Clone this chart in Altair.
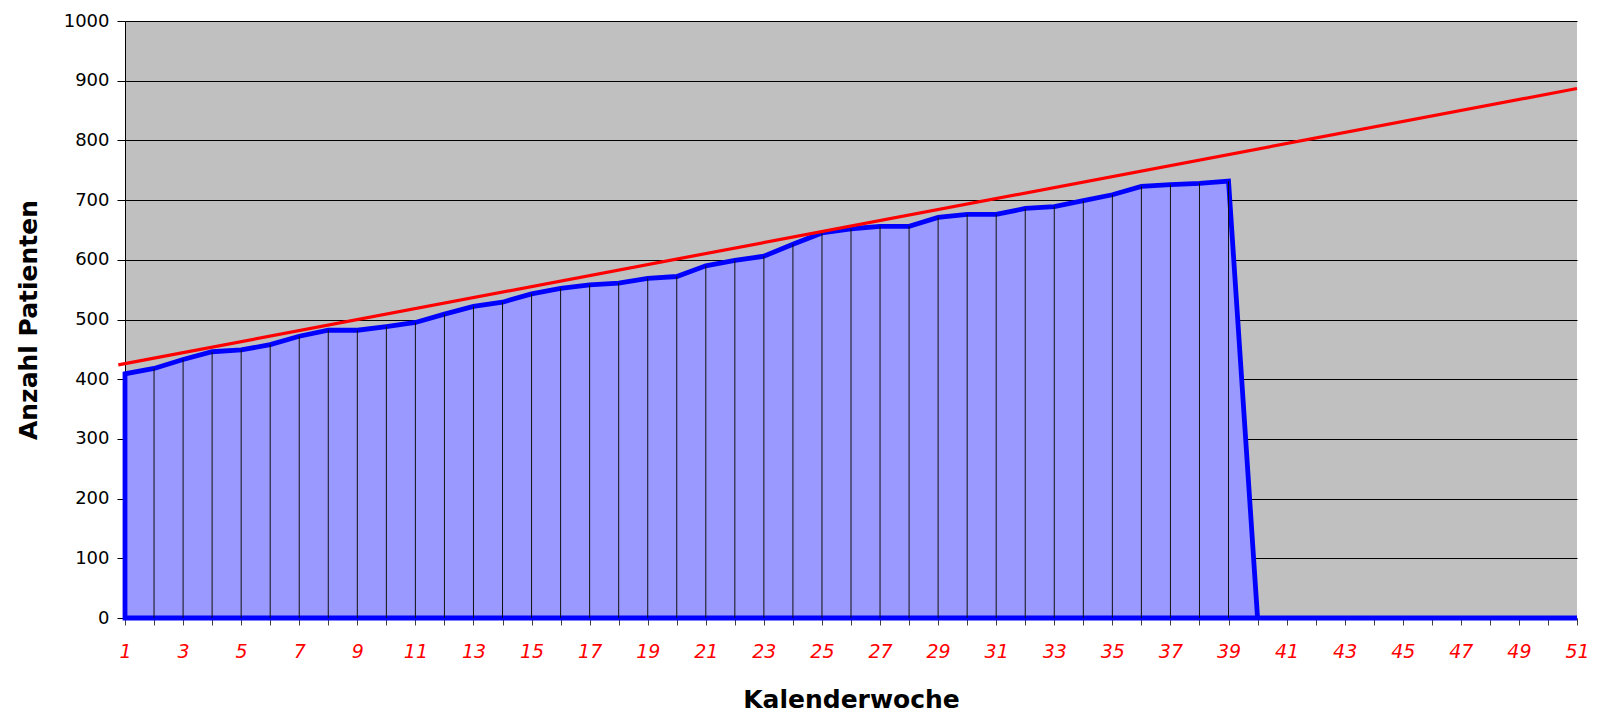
import altair as alt
import pandas as pd

# ---- data ----
weeks = list(range(1, 52))
patients = [409, 418, 433, 446, 449, 458, 472, 482, 482, 488,
            495, 509, 522, 529, 543, 552, 558, 561, 569, 572,
            590, 599, 606, 626, 645, 652, 656, 656, 671, 676,
            676, 686, 689, 699, 709, 723, 726, 728, 732,
            0, 0, 0, 0, 0, 0, 0, 0, 0, 0, 0, 0]
trend_weeks = [0.77, 51]
trend_values = [424, 887]
y_ticks = list(range(0, 1001, 100))

df = pd.DataFrame({"week": weeks, "patients": patients})
outline = pd.DataFrame({
    "week": [weeks[0]] + weeks + [weeks[0]],
    "patients": [0] + patients + [0],
})
outline["order"] = range(len(outline))
drops = df[(df["week"] > weeks[0]) & (df["patients"] > 0)].copy()
drops["base"] = 0
trend = pd.DataFrame({"week": trend_weeks, "patients": trend_values})

PLOT_W = 1452
PLOT_H = 597

x_scale = alt.Scale(domain=[1, 51], nice=False, zero=False)
y_scale = alt.Scale(domain=[0, 1000], nice=False)

x_axis = alt.Axis(
    title="Kalenderwoche", values=weeks, format="d",
    labelExpr="datum.value % 2 == 1 ? datum.label : ''",
    grid=False, domain=False, tickSize=7, tickColor="#404040", tickWidth=1,
    labelColor="#FF0000", labelFontStyle="italic", labelFont="DejaVu Sans",
    labelFontSize=19, labelPadding=32, labelBaseline="alphabetic",
    labelFlush=False, labelOverlap=False, labelBound=False,
    titleFont="DejaVu Sans", titleFontSize=25, titleFontWeight="bold",
    titleColor="black", titleX=PLOT_W / 2, titleY=89, titleBaseline="alphabetic",
    titleAlign="center",
)
y_axis = alt.Axis(
    title="Anzahl Patienten", values=y_ticks, format="d",
    grid=True, gridColor="black", gridWidth=1, gridOpacity=1,
    domainColor="black", domainWidth=1, tickColor="black", tickSize=8,
    labelPadding=8, labelFont="DejaVu Sans", labelFontSize=18,
    labelColor="black", labelFlush=False, labelOverlap=False,
    titleFont="DejaVu Sans", titleFontSize=25, titleFontWeight="bold",
    titleColor="black", titleAngle=270, titleX=-89, titleY=PLOT_H / 2,
    titleBaseline="alphabetic", titleAlign="center",
)

X = alt.X("week:Q", scale=x_scale, axis=x_axis)
Y = alt.Y("patients:Q", scale=y_scale, axis=y_axis)

area = alt.Chart(df).mark_area(color="#9999FF", opacity=1).encode(x=X, y=Y)

border = alt.Chart(outline).mark_line(
    color="#0000FF", strokeWidth=4.8, strokeCap="square", strokeJoin="miter"
).encode(x=X, y=Y, order="order:Q")

droplines = alt.Chart(drops).mark_rule(color="#111111", strokeWidth=1).encode(
    x=X, y=Y, y2="base:Q"
)

trendline = alt.Chart(trend).mark_line(color="#FF0000", strokeWidth=3.2).encode(
    x=X, y=Y
)

chart = alt.layer(area, border, droplines, trendline).properties(
    width=PLOT_W, height=PLOT_H,
    autosize=alt.AutoSizeParams(type="none"),
    padding={"left": 117, "top": 13, "right": 12, "bottom": 98},
).configure_view(fill="#C0C0C0", strokeWidth=0)

chart.save("out.html", embed_options={"renderer": "svg", "actions": False})
